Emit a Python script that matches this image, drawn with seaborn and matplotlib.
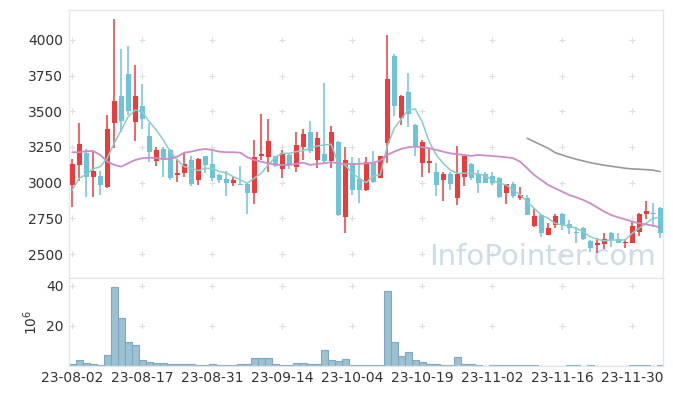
import numpy as np
import pandas as pd
import matplotlib
matplotlib.use('Agg')
import matplotlib.pyplot as plt
import seaborn as sns

# Дневные свечи: open / high / low / close
opens = [2980, 3125, 3210, 3040, 3045, 2970, 3420, 3605, 3760, 3425,
         3540, 3330, 3155, 3235, 3230, 3050, 3070, 3160, 3015, 3185,
         3130, 3055, 3025, 2995, 2990, 2990, 2925, 3190, 3180, 3185,
         3095, 3195, 3110, 3250, 3355, 3160, 3200, 3150, 3285, 2760,
         3130, 3025, 2945, 3145, 3035, 3280, 3890, 3450, 3635, 3405,
         3135, 3140, 3075, 3015, 3060, 2890, 3040, 3130, 3060, 3060,
         3045, 3035, 2930, 2990, 2895, 2890, 2695, 2775, 2635, 2700,
         2780, 2710, 2655, 2685, 2590, 2560, 2570, 2650, 2605, 2575,
         2580, 2655, 2780, 2785, 2820]
highs = [3165, 3420, 3235, 3215, 3080, 3475, 4145, 3935, 3960, 3825,
         3690, 3415, 3250, 3250, 3235, 3165, 3210, 3185, 3170, 3190,
         3235, 3060, 3080, 3040, 3115, 2995, 3300, 3480, 3445, 3190,
         3230, 3200, 3355, 3375, 3430, 3355, 3695, 3400, 3290, 3250,
         3180, 3170, 3180, 3225, 3190, 4035, 3900, 3615, 3765, 3410,
         3300, 3235, 3135, 3075, 3075, 3255, 3190, 3135, 3090, 3075,
         3075, 3040, 2990, 3005, 2970, 2910, 2820, 2780, 2720, 2780,
         2785, 2740, 2690, 2690, 2595, 2615, 2645, 2655, 2650, 2605,
         2730, 2785, 2870, 2855, 2830]
lows = [2830, 3010, 2900, 2900, 2915, 2960, 3240, 3355, 3475, 3295,
        3375, 3145, 3120, 3040, 3020, 3005, 3040, 2975, 2980, 3065,
        3010, 2995, 2905, 2975, 2980, 2780, 2850, 3160, 3075, 3110,
        3030, 3095, 3075, 3160, 3205, 3105, 3135, 3105, 2765, 2650,
        2915, 2855, 2940, 2995, 3030, 3135, 3465, 3405, 3390, 3190,
        3040, 3070, 2905, 2870, 2945, 2840, 2975, 3015, 2925, 2995,
        2985, 2890, 2850, 2890, 2875, 2770, 2690, 2620, 2630, 2680,
        2670, 2640, 2575, 2600, 2515, 2510, 2535, 2550, 2575, 2545,
        2575, 2625, 2745, 2690, 2610]
closes = [3130, 3270, 3040, 3080, 2985, 3375, 3570, 3430, 3500, 3605,
          3445, 3215, 3230, 3160, 3030, 3068, 3130, 2990, 3165, 3125,
          3030, 3020, 3000, 3020, 2985, 2925, 3180, 3200, 3290, 3125,
          3205, 3125, 3265, 3340, 3220, 3310, 3150, 3355, 2770, 3160,
          2950, 2950, 3145, 3005, 3185, 3725, 3535, 3605, 3480, 3250,
          3285, 3150, 2985, 3060, 2990, 3060, 3185, 3035, 2995, 3000,
          3000, 2900, 2990, 2905, 2910, 2775, 2765, 2645, 2680, 2765,
          2705, 2680, 2645, 2605, 2540, 2575, 2605, 2600, 2575, 2585,
          2695, 2780, 2800, 2780, 2645]

# Скользящие средние
ma5 = [2949, 3031, 3059, 3096, 3112, 3171, 3276, 3369, 3462, 3509,
       3498, 3427, 3369, 3299, 3217, 3159, 3112, 3100, 3084, 3100,
       3100, 3077, 3070, 3042, 3019, 2996, 3031, 3066, 3124, 3178,
       3205, 3205, 3217, 3224, 3241, 3257, 3264, 3269, 3136, 3124,
       3066, 3031, 3000, 3047, 3054, 3252, 3381, 3444, 3509, 3516,
       3427, 3287, 3194, 3136, 3089, 3066, 3066, 3066, 3061, 3049,
       3019, 2996, 2984, 2949, 2914, 2867, 2820, 2773, 2750, 2715,
       2703, 2696, 2680, 2656, 2621, 2603, 2593, 2598, 2598, 2598,
       2645, 2680, 2715, 2750, 2757]
ma20 = [3213, 3213, 3220, 3222, 3194, 3147, 3124, 3112, 3136, 3159,
        3171, 3175, 3171, 3166, 3166, 3182, 3210, 3217, 3229, 3236,
        3229, 3217, 3213, 3213, 3210, 3178, 3159, 3147, 3136, 3124,
        3124, 3124, 3131, 3140, 3124, 3131, 3136, 3143, 3136, 3131,
        3131, 3131, 3136, 3140, 3154, 3194, 3217, 3236, 3248, 3252,
        3248, 3241, 3229, 3217, 3205, 3199, 3194, 3187, 3194, 3190,
        3187, 3182, 3178, 3171, 3147, 3101, 3054, 3019, 2984, 2960,
        2937, 2914, 2897, 2879, 2855, 2827, 2797, 2773, 2757, 2743,
        2727, 2715, 2708, 2698, 2687]
ma60 = [np.nan] * 65 + [3311, 3287, 3264, 3241, 3210, 3194, 3178, 3164, 3152, 3140,
                        3131, 3122, 3115, 3108, 3101, 3096, 3094, 3091, 3087, 3077]

# Объём, млн
volume = [1.0, 2.9, 1.5, 1.0, 0.5, 5.4, 39.7, 24.0, 12.2, 10.3,
          2.9, 2.0, 1.5, 1.5, 1.0, 1.0, 1.0, 1.0, 0.5, 0.5,
          1.0, 0.5, 0.5, 0.5, 1.0, 1.0, 3.9, 3.9, 3.9, 1.0,
          0.5, 0.5, 1.5, 1.5, 1.0, 1.0, 7.8, 2.9, 2.4, 3.4,
          0.5, 0.5, 0.5, 0.5, 0.5, 37.7, 11.8, 4.9, 6.9, 2.9,
          2.0, 1.0, 1.0, 0.5, 0.5, 4.4, 1.0, 1.0, 0.5, 0.2,
          0.4, 0.4, 0.4, 0.4, 0.4, 0.4, 0.4, 0.2, 0.2, 0.2,
          0.2, 0.4, 0.4, 0.2, 0.4, 0.2, 0.2, 0.2, 0.2, 0.2,
          0.4, 0.4, 0.4, 0.2, 0.4]

tick_labels = ['23-08-02', '23-08-17', '23-08-31', '23-09-14', '23-10-04',
               '23-10-19', '23-11-02', '23-11-16', '23-11-30']

df = pd.DataFrame({'open': opens, 'high': highs, 'low': lows, 'close': closes,
                   'ma5': ma5, 'ma20': ma20, 'ma60': ma60, 'vol': volume})
df['i'] = np.arange(len(df))

UP = '#ef3a3b'
DOWN = '#6dc4da'
GRID = '#dedede'
TXT = '#333333'

sns.set_theme(style='white')
plt.rcParams['font.family'] = ['DejaVu Sans']

fig = plt.figure(figsize=(6.73, 3.96), dpi=100)
ax = fig.add_axes([0.1025, 0.298, 0.8825, 0.677])
axv = fig.add_axes([0.1025, 0.076, 0.8825, 0.222], sharex=ax)

# свечи
up = df['close'] >= df['open']
colors = np.where(up, UP, DOWN)
ax.vlines(df['i'], df['low'], df['high'], colors=colors, linewidth=1.1, zorder=2)
body_low = df[['open', 'close']].min(axis=1)
body_h = (df['close'] - df['open']).abs().clip(lower=6)
ax.bar(df['i'], body_h, bottom=body_low, width=0.72, color=colors, linewidth=0, zorder=3)

# скользящие средние
sns.lineplot(data=df, x='i', y='ma5', ax=ax, color='#8acdc6', linewidth=1.1, zorder=4)
sns.lineplot(data=df, x='i', y='ma20', ax=ax, color='#cc8cc6', linewidth=1.3, zorder=4)
sns.lineplot(data=df, x='i', y='ma60', ax=ax, color='#999999', linewidth=1.2, zorder=4)

# объём
axv.bar(df['i'], df['vol'], width=1.0, color='#9cc1d3', edgecolor='#7ea8bd', linewidth=0.8, zorder=2)

xticks = np.arange(0, len(df), 10)
ax.set_xlim(-0.47, 84.4)
ax.set_ylim(2332, 4210)
axv.set_ylim(0, 44)
ax.set_yticks([2500, 2750, 3000, 3250, 3500, 3750, 4000])
axv.set_yticks([20, 40])
axv.set_xticks(xticks)
axv.set_xticklabels(tick_labels)
ax.tick_params(labelbottom=False)

# точечная сетка "+"
for a in (ax, axv):
    yt = a.get_yticks()
    gx, gy = np.meshgrid(xticks, yt)
    a.scatter(gx.ravel(), gy.ravel(), marker='+', s=14, color=GRID, linewidths=0.8, zorder=1)
    a.set_xlabel('')
    a.set_ylabel('')
    a.tick_params(length=0, labelsize=10, colors=TXT, pad=4)
    for s in a.spines.values():
        s.set_color('#e6e6e6')
        s.set_linewidth(1)

axv.set_ylabel('10$^6$', fontsize=10, color=TXT, labelpad=4)

ax.text(0.988, 0.025, 'InfoPointer.com', transform=ax.transAxes, ha='right', va='bottom',
        fontsize=21, color='#c3d7e3', alpha=0.85, zorder=1.5)

fig.savefig('out.png', dpi=100)
